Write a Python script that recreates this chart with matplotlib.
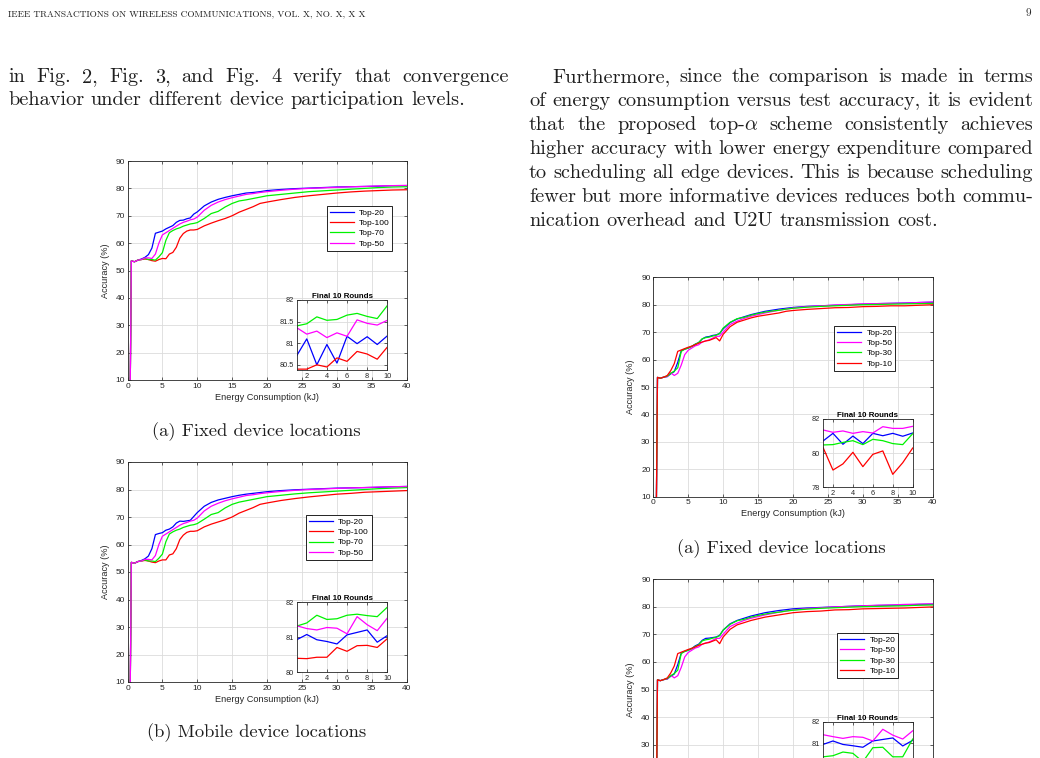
import matplotlib.pyplot as plt
from matplotlib.ticker import FuncFormatter

plt.rcParams['mathtext.fontset'] = 'cm'
plt.rcParams['font.family'] = ['Liberation Sans', 'DejaVu Sans']

W, H = 1040, 758
GRAY = (0.15, 0.15, 0.15)

# ---------------- data ----------------
# energy axis (kJ) shared by the curves of each panel
energy = [0.4, 0.55, 1, 1.5, 2, 2.5, 3, 3.5, 4, 4.5, 5, 5.5, 6, 6.5, 7, 7.5, 8, 8.5, 9, 9.5, 10,
          11, 12, 13, 14, 15, 16, 17, 18, 19, 20, 22, 24, 26, 28, 30, 32, 34, 36, 38, 40]
energy_r = [0.45, 0.6, 1, 1.5, 2, 2.5, 3, 3.5, 4, 4.5, 5, 5.5, 6, 6.5, 7, 7.5, 8, 8.5, 9, 9.5, 10,
            11, 12, 13, 14, 15, 16, 17, 18, 19, 20, 22, 24, 26, 28, 30, 32, 34, 36, 38, 40]
rounds = [1, 2, 3, 4, 5, 6, 7, 8, 9, 10]

# Fig (a) left: fixed device locations, top-k
a_top20 = [10, 53.5, 53.2, 53.8, 54.2, 54.8, 55.8, 58.2, 63.6, 64.0, 64.4, 65.2, 65.8, 66.4, 67.6, 68.3, 68.4, 68.9, 69.2, 70.6, 71.4,
           73.6, 75.0, 76.0, 76.7, 77.3, 77.8, 78.3, 78.5, 78.8, 79.2, 79.6, 79.9, 80.1, 80.3, 80.5, 80.6, 80.7, 80.8, 81.0, 81.0]
a_top100 = [10, 53.5, 53.2, 53.8, 54.0, 54.2, 54.0, 53.6, 53.4, 54.0, 54.4, 54.3, 56.0, 56.6, 58.5, 61.8, 63.5, 64.4, 64.8, 64.8, 65.0,
            66.3, 67.3, 68.2, 69.0, 70.0, 71.3, 72.3, 73.3, 74.5, 75.0, 75.9, 76.7, 77.3, 77.8, 78.3, 78.7, 79.0, 79.2, 79.4, 79.5]
a_top70 = [10, 53.5, 53.2, 53.8, 54.0, 54.4, 54.0, 54.0, 53.8, 55.0, 56.5, 61.0, 63.8, 64.6, 65.2, 65.6, 66.2, 66.6, 67.0, 67.2, 67.5,
           69.0, 70.8, 71.6, 73.2, 74.5, 75.4, 75.8, 76.3, 76.8, 77.3, 77.8, 78.3, 78.8, 79.1, 79.4, 79.7, 80.0, 80.3, 80.5, 80.6]
a_top50 = [10, 53.5, 53.2, 53.8, 54.0, 54.6, 54.6, 54.4, 56.0, 60.0, 63.0, 63.8, 64.6, 65.4, 66.2, 67.0, 67.6, 68.0, 68.5, 68.8, 69.5,
           72.0, 73.8, 75.0, 75.9, 76.6, 77.2, 77.8, 78.1, 78.5, 78.8, 79.3, 79.7, 80.0, 80.2, 80.4, 80.6, 80.7, 80.9, 81.0, 81.1]
a_fin20 = [80.71, 81.10, 80.50, 80.97, 80.54, 81.16, 80.99, 81.15, 80.97, 81.17]
a_fin100 = [80.40, 80.40, 80.50, 80.45, 80.66, 80.58, 80.81, 80.75, 80.63, 80.91]
a_fin70 = [81.40, 81.45, 81.61, 81.53, 81.55, 81.65, 81.69, 81.62, 81.57, 81.87]
a_fin50 = [81.36, 81.21, 81.28, 81.13, 81.24, 81.16, 81.54, 81.46, 81.42, 81.53]

# Fig (b) left: mobile device locations, top-k
b_top20 = [10, 53.5, 53.2, 53.8, 54.2, 54.8, 55.8, 58.5, 63.6, 64.0, 64.3, 65.2, 65.6, 66.4, 67.8, 68.5, 68.4, 68.6, 68.8, 70.2, 71.6,
           73.9, 75.3, 76.2, 76.8, 77.4, 77.9, 78.3, 78.6, 78.9, 79.2, 79.6, 79.9, 80.1, 80.3, 80.5, 80.6, 80.7, 80.8, 81.0, 81.1]
b_top100 = [10, 53.5, 53.2, 53.8, 54.0, 54.2, 54.0, 53.6, 53.4, 54.0, 54.4, 54.4, 56.2, 56.6, 58.5, 61.8, 63.4, 64.4, 64.8, 64.8, 65.0,
            66.4, 67.4, 68.2, 69.0, 70.0, 71.4, 72.4, 73.4, 74.6, 75.1, 76.0, 76.7, 77.3, 77.8, 78.3, 78.6, 79.0, 79.2, 79.4, 79.6]
b_top70 = [10, 53.5, 53.2, 53.8, 54.0, 54.4, 54.0, 54.0, 53.8, 55.0, 56.5, 61.0, 63.8, 64.6, 65.2, 65.6, 66.2, 66.6, 67.0, 67.2, 67.6,
           69.2, 70.9, 71.6, 73.3, 74.6, 75.4, 75.9, 76.4, 76.9, 77.4, 77.9, 78.4, 78.8, 79.1, 79.4, 79.7, 80.0, 80.3, 80.5, 80.7]
b_top50 = [10, 53.5, 53.2, 53.8, 54.0, 54.6, 54.6, 54.4, 56.0, 60.0, 63.0, 63.8, 64.6, 65.4, 66.2, 67.0, 67.6, 68.0, 68.5, 68.8, 69.6,
           72.2, 73.9, 75.0, 75.9, 76.6, 77.2, 77.8, 78.1, 78.5, 78.8, 79.3, 79.7, 80.0, 80.2, 80.4, 80.6, 80.7, 80.9, 81.0, 81.1]
b_fin20 = [80.93, 81.08, 80.93, 80.88, 80.81, 81.07, 81.14, 81.21, 80.86, 81.05]
b_fin100 = [80.40, 80.39, 80.43, 80.43, 80.71, 80.60, 80.76, 80.77, 80.71, 80.96]
b_fin70 = [81.32, 81.41, 81.63, 81.51, 81.53, 81.63, 81.66, 81.62, 81.59, 81.86]
b_fin50 = [81.33, 81.25, 81.21, 81.28, 81.26, 81.10, 81.59, 81.36, 81.19, 81.55]

# Fig (a) right: fixed device locations, top-alpha
c_top20 = [10, 53.5, 53.2, 53.6, 53.8, 54.8, 55.6, 59.0, 63.2, 63.8, 64.2, 64.8, 65.6, 66.2, 67.5, 68.2, 68.4, 68.8, 69.0, 69.5, 71.2,
           73.5, 74.8, 75.6, 76.4, 77.0, 77.6, 78.0, 78.4, 78.7, 79.0, 79.4, 79.6, 79.8, 80.0, 80.2, 80.4, 80.5, 80.6, 80.8, 80.9]
c_top50 = [10, 53.5, 53.2, 53.6, 53.8, 55.2, 54.2, 55.0, 58.0, 61.8, 63.4, 64.2, 65.0, 65.4, 66.4, 66.8, 67.2, 67.8, 68.5, 68.5, 70.0,
           72.8, 74.0, 75.0, 75.8, 76.4, 77.0, 77.5, 78.0, 78.4, 78.8, 79.3, 79.6, 79.9, 80.1, 80.3, 80.4, 80.5, 80.6, 80.8, 81.0]
c_top30 = [10, 53.5, 53.2, 53.6, 54.0, 55.0, 55.8, 57.0, 63.0, 63.8, 64.2, 64.8, 65.6, 66.2, 67.6, 68.0, 68.2, 68.6, 68.9, 69.5, 71.5,
           73.6, 74.9, 75.4, 76.2, 76.8, 77.3, 77.7, 78.0, 78.4, 78.7, 79.1, 79.4, 79.6, 79.8, 80.0, 80.1, 80.2, 80.3, 80.4, 80.5]
c_top10 = [10, 53.5, 53.2, 53.6, 54.2, 56.0, 58.5, 63.0, 63.5, 64.0, 64.5, 64.9, 65.4, 66.0, 66.4, 66.8, 67.0, 67.5, 68.0, 66.8, 69.2,
           72.0, 73.6, 74.4, 75.2, 75.8, 76.2, 76.6, 77.0, 77.6, 77.9, 78.3, 78.6, 78.9, 79.0, 79.3, 79.4, 79.6, 79.6, 79.8, 80.0]
c_fin20 = [80.71, 81.16, 80.52, 81.00, 80.56, 81.16, 81.02, 81.16, 80.99, 81.18]
c_fin50 = [81.36, 81.22, 81.30, 81.16, 81.26, 81.18, 81.55, 81.45, 81.45, 81.57]
c_fin30 = [80.48, 80.50, 80.63, 80.73, 80.50, 80.81, 80.73, 80.56, 80.50, 81.14]
c_fin10 = [80.34, 79.01, 79.37, 80.05, 79.21, 79.93, 80.13, 78.76, 79.44, 80.30]

# Fig (b) right: mobile device locations, top-alpha
d_top20 = [10, 53.5, 53.2, 53.6, 53.8, 54.8, 55.6, 59.0, 63.2, 63.8, 64.2, 64.8, 65.8, 66.4, 67.8, 68.5, 68.6, 68.8, 69.0, 69.6, 71.5,
           73.8, 75.0, 75.8, 76.6, 77.2, 77.8, 78.2, 78.6, 78.9, 79.2, 79.5, 79.7, 79.9, 80.1, 80.3, 80.4, 80.5, 80.6, 80.8, 80.9]
d_top50 = [10, 53.5, 53.2, 53.6, 53.8, 55.2, 54.2, 55.0, 58.0, 61.8, 63.4, 64.2, 65.0, 65.4, 66.4, 66.8, 67.2, 67.8, 68.5, 68.5, 70.0,
           72.8, 74.0, 75.0, 75.8, 76.4, 77.0, 77.5, 78.0, 78.4, 78.8, 79.3, 79.6, 79.9, 80.1, 80.3, 80.5, 80.6, 80.8, 80.9, 81.0]
d_top30 = [10, 53.5, 53.2, 53.6, 54.0, 55.0, 55.8, 57.0, 63.0, 63.8, 64.2, 64.8, 65.6, 66.2, 67.6, 68.0, 68.2, 68.6, 68.9, 69.5, 71.5,
           73.6, 74.9, 75.4, 76.2, 76.8, 77.3, 77.7, 78.0, 78.4, 78.7, 79.1, 79.4, 79.6, 79.8, 80.0, 80.1, 80.2, 80.3, 80.5, 80.6]
d_top10 = [10, 53.5, 53.2, 53.6, 54.2, 56.0, 58.5, 63.0, 63.5, 64.0, 64.5, 64.9, 65.4, 66.0, 66.4, 66.8, 67.0, 67.5, 68.0, 66.6, 69.0,
           71.8, 73.4, 74.2, 75.0, 75.6, 76.2, 76.6, 77.0, 77.4, 77.8, 78.2, 78.4, 78.8, 78.9, 79.2, 79.3, 79.4, 79.5, 79.7, 79.9]
d_fin20 = [80.95, 81.11, 80.95, 80.89, 80.82, 81.11, 81.18, 81.25, 80.88, 81.14]
d_fin50 = [81.40, 81.31, 81.23, 81.31, 81.28, 81.11, 81.65, 81.38, 81.20, 81.58]
d_fin30 = [80.38, 80.43, 80.60, 80.54, 80.15, 80.80, 80.82, 80.38, 80.38, 81.20]
d_fin10 = [80.20, 79.40, 79.60, 80.00, 79.40, 79.90, 80.10, 79.20, 79.50, 80.10]

header = 'IEEE TRANSACTIONS ON WIRELESS COMMUNICATIONS, VOL. X, NO. X, X X'
left_lines = ['in Fig. 2, Fig. 3, and Fig. 4 verify that convergence',
              'behavior under different device participation levels.']
right_lines = ['Furthermore, since the comparison is made in terms',
               'of energy consumption versus test accuracy, it is evident',
               r'that the proposed top-$\alpha$ scheme consistently achieves',
               'higher accuracy with lower energy expenditure compared',
               'to scheduling all edge devices. This is because scheduling',
               'fewer but more informative devices reduces both commu-',
               'nication overhead and U2U transmission cost.']

# ---------------- figure ----------------
fig = plt.figure(figsize=(W / 100, H / 100), dpi=100)
renderer = fig.canvas.get_renderer()


def rect(l, t, r, b):
    return [l / W, 1 - b / H, (r - l) / W, (b - t) / H]


def style(ax, size):
    ax.tick_params(direction='in', top=True, right=True, length=2.5, width=0.5,
                   labelsize=size, colors=GRAY, pad=2)
    for s in ax.spines.values():
        s.set_linewidth(0.6)
        s.set_color(GRAY)
    ax.grid(True, color='#dcdcdc', lw=0.6)
    ax.set_axisbelow(True)


def panel(box, inset, x, series, finals, ylim_in, yticks_in, leg_xy, cropped=False):
    ax = fig.add_axes(rect(*box))
    for (label, color), vals in zip(series, finals[0]):
        ax.plot(x, vals, color=color, lw=0.9, label=label)
    ax.set_xlim(0, 40)
    ax.set_ylim(10, 90)
    ax.set_xticks([0, 5, 10, 15, 20, 25, 30, 35, 40])
    ax.set_yticks([10, 20, 30, 40, 50, 60, 70, 80, 90])
    style(ax, 6)
    ax.set_ylabel('Accuracy (%)', fontsize=6.6, color=GRAY, labelpad=4)
    if cropped:
        # lower part of this panel lies below the page crop
        ax.set_yticklabels(['', '', '30', '40', '50', '60', '70', '80', '90'])
        ax.set_xticklabels([])
    else:
        ax.set_xlabel('Energy Consumption (kJ)', fontsize=6.6, color=GRAY, labelpad=2)
    ax.legend(loc='upper left', bbox_to_anchor=(leg_xy[0] / W, 1 - leg_xy[1] / H),
              bbox_transform=fig.transFigure, fontsize=6, frameon=True, fancybox=False,
              edgecolor='black', framealpha=1, handlelength=2.9, handletextpad=0.6,
              labelspacing=0.3, borderpad=0.35, borderaxespad=0)
    ax.get_legend().get_frame().set_linewidth(0.6)

    ins = fig.add_axes(rect(*inset))
    for (label, color), vals in zip(series, finals[1]):
        ins.plot(rounds, vals, color=color, lw=0.9)
    ins.set_xlim(1, 10)
    ins.set_ylim(*ylim_in)
    ins.set_xticks([2, 4, 6, 8, 10])
    ins.set_yticks(yticks_in)
    ins.yaxis.set_major_formatter(FuncFormatter(lambda v, p: '%g' % v))
    style(ins, 5.3)
    if cropped:
        ins.set_yticklabels(['' if v < 81 else '%g' % v for v in yticks_in])
        ins.set_xticklabels([])
    ins.set_title('Final 10 Rounds', fontsize=5.7, fontweight='bold', pad=1.5, color='black')
    return ax


blue, red, green, mag = (0, 0, 1), (1, 0, 0), (0, 0.95, 0), (1, 0, 1)

panel((127.5, 161, 406.5, 380), (296.7, 300, 387.3, 370), energy,
      [('Top-20', blue), ('Top-100', red), ('Top-70', green), ('Top-50', mag)],
      ([a_top20, a_top100, a_top70, a_top50], [a_fin20, a_fin100, a_fin70, a_fin50]),
      (80.38, 82.0), [80.5, 81, 81.5, 82], (326.7, 206))

panel((127.5, 462, 406.5, 682), (296.7, 602.3, 387.3, 672.3), energy,
      [('Top-20', blue), ('Top-100', red), ('Top-70', green), ('Top-50', mag)],
      ([b_top20, b_top100, b_top70, b_top50], [b_fin20, b_fin100, b_fin70, b_fin50]),
      (80, 82), [80, 81, 82], (306, 515))

panel((653.3, 277.3, 932.7, 496.7), (823, 419, 912.7, 487.3), energy_r,
      [('Top-20', blue), ('Top-50', mag), ('Top-30', green), ('Top-10', red)],
      ([c_top20, c_top50, c_top30, c_top10], [c_fin20, c_fin50, c_fin30, c_fin10]),
      (78, 82), [78, 80, 82], (834.3, 326))

panel((653.3, 579, 932.7, 800), (823, 721.7, 912.7, 786.7), energy_r,
      [('Top-20', blue), ('Top-50', mag), ('Top-30', green), ('Top-10', red)],
      ([d_top20, d_top50, d_top30, d_top10], [d_fin20, d_fin50, d_fin30, d_fin10]),
      (79, 82), [79, 80, 81, 82], (837.3, 633.3), cropped=True)


# ---------------- page text ----------------
TXT = '#1e1e1e'


def line(text, x0, x1, y, size, justify=True):
    words = text.split(' ')
    arts = [fig.text(0, 1 - y / H, w, fontsize=size, family='cmr10', color=TXT, va='baseline')
            for w in words]
    ws = [a.get_window_extent(renderer).width for a in arts]
    gap = (x1 - x0 - sum(ws)) / (len(ws) - 1) if justify else size * 0.333 * 100 / 72
    x = x0
    for a, w in zip(arts, ws):
        a.set_x(x / W)
        x += w + gap


BODY = 14.6
fig.text(8 / W, 1 - 16 / H, header, fontsize=6.7, family='cmr10', color=TXT, va='baseline')
fig.text(1031 / W, 1 - 16 / H, '9', fontsize=8, family='cmr10', color=TXT, va='baseline', ha='right')

line(left_lines[0], 8, 509, 82, BODY)
line(left_lines[1], 8, 509, 105, BODY, justify=False)
line(right_lines[0], 552, 1033, 82, BODY)
for i, t in enumerate(right_lines[1:]):
    line(t, 529, 1033, 106 + 24 * i, BODY, justify=(i < 5))

cap = dict(fontsize=13.4, family='cmr10', color=TXT, ha='center', va='baseline')
fig.text(256.7 / W, 1 - 436 / H, '(a) Fixed device locations', **cap)
fig.text(257 / W, 1 - 737 / H, '(b) Mobile device locations', **cap)
fig.text(781.7 / W, 1 - 553 / H, '(a) Fixed device locations', **cap)

fig.savefig('out.png', dpi=100)
